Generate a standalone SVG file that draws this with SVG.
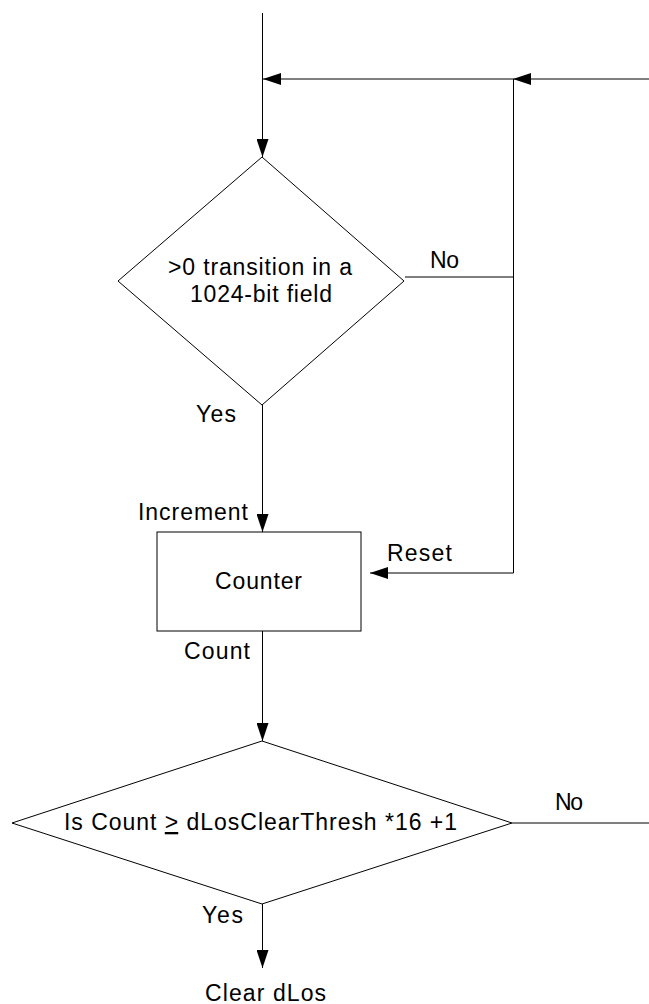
<svg xmlns="http://www.w3.org/2000/svg" width="649" height="1004" viewBox="0 0 649 1004">
  <style>
    .shape { fill: #ffffff; stroke: #000000; stroke-width: 1; }
    .conn { fill: none; stroke: #000000; stroke-width: 1; }
    .t { font-family: "Liberation Sans", Arial, sans-serif; font-size: 23px; fill: #000000; }
  </style>
  <defs>
    <marker id="arrow" markerUnits="userSpaceOnUse" markerWidth="18" markerHeight="12" refX="18" refY="6" orient="auto" viewBox="0 0 18 12">
      <path d="M0,0 L18,6 L0,12 Z" fill="#000000"/>
    </marker>
  </defs>
  <rect x="0" y="0" width="649" height="1004" fill="#ffffff"/>

  <g id="connectors">
    <path class="conn" d="M262.5,13 L262.5,157" marker-end="url(#arrow)"/>
    <path class="conn" d="M649,79 L513,79" marker-end="url(#arrow)"/>
    <path class="conn" d="M513,79 L263,79" marker-end="url(#arrow)"/>
    <path class="conn" d="M405,277 L513.5,277"/>
    <path class="conn" d="M513.5,79 L513.5,573 L370,573" marker-end="url(#arrow)"/>
    <path class="conn" d="M262.5,405 L262.5,532" marker-end="url(#arrow)"/>
    <path class="conn" d="M262.5,631 L262.5,741" marker-end="url(#arrow)"/>
    <path class="conn" d="M512,823 L649,823"/>
    <path class="conn" d="M262.5,904 L262.5,968" marker-end="url(#arrow)"/>
  </g>

  <g id="decision-transition">
    <polygon class="shape" points="262,157 404,281 262,405 118,281"/>
    <text class="t" x="168" y="275" textLength="184" lengthAdjust="spacing">&gt;0 transition in a</text>
    <text class="t" x="190" y="302" textLength="142" lengthAdjust="spacing">1024-bit field</text>
  </g>

  <g id="counter">
    <rect class="shape" x="157" y="532" width="204" height="99"/>
    <text class="t" x="215" y="589" textLength="87" lengthAdjust="spacing">Counter</text>
  </g>

  <g id="decision-count">
    <polygon class="shape" points="262,741 512,823 262,904 12,823"/>
    <text class="t" x="64" y="830" textLength="393" lengthAdjust="spacing">Is Count <tspan text-decoration="underline">&gt;</tspan> dLosClearThresh *16 +1</text>
  </g>

  <g id="labels">
    <text class="t" x="430" y="268" textLength="29" lengthAdjust="spacing">No</text>
    <text class="t" x="196" y="422" textLength="40" lengthAdjust="spacing">Yes</text>
    <text class="t" x="138" y="520" textLength="110" lengthAdjust="spacing">Increment</text>
    <text class="t" x="387" y="561" textLength="65" lengthAdjust="spacing">Reset</text>
    <text class="t" x="184" y="659" textLength="66" lengthAdjust="spacing">Count</text>
    <text class="t" x="555" y="810" textLength="28" lengthAdjust="spacing">No</text>
    <text class="t" x="202" y="923" textLength="41" lengthAdjust="spacing">Yes</text>
  </g>

  <g id="clear-dlos">
    <text class="t" x="205" y="1001" textLength="121" lengthAdjust="spacing">Clear dLos</text>
  </g>
</svg>
